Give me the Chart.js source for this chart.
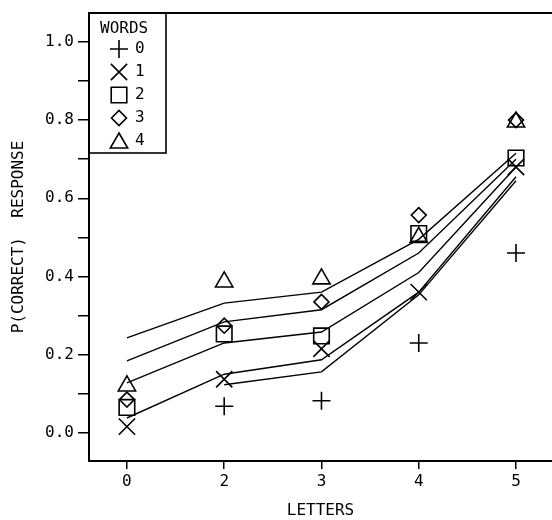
<!DOCTYPE html>
<html>
<head>
<meta charset="utf-8">
<script src="https://cdn.jsdelivr.net/npm/chart.js@4"></script>
<style>
  html, body { margin: 0; padding: 0; background: #fff; }
  canvas { display: block; }
</style>
</head>
<body>
<canvas id="chart" width="552" height="520"></canvas>
<script>
// letters shown (x categories) and word counts (series)
const letters = ['0', '2', '3', '4', '5'];
const words = ['0', '1', '2', '3', '4'];

// observed proportions, one array per word count
const obs0 = [null, 0.068, 0.082, 0.23, 0.46];
const obs1 = [0.016, 0.137, 0.215, 0.36, 0.68];
const obs2 = [0.065, 0.253, 0.248, 0.51, 0.703];
const obs3 = [0.085, 0.274, 0.335, 0.557, 0.80];
const obs4 = [0.12, 0.386, 0.394, 0.50, 0.795];

// model fits, one line per word count
const fit0 = [null, 0.123, 0.156, 0.353, 0.645];
const fit1 = [0.038, 0.15, 0.187, 0.36, 0.655];
const fit2 = [0.128, 0.23, 0.258, 0.41, 0.68];
const fit3 = [0.184, 0.284, 0.315, 0.46, 0.70];
const fit4 = [0.243, 0.332, 0.36, 0.495, 0.715];

const yTicks = [0.0, 0.1, 0.2, 0.3, 0.4, 0.5, 0.6, 0.7, 0.8, 0.9, 1.0];
const yTickLabels = ['0.0', '', '0.2', '', '0.4', '', '0.6', '', '0.8', '', '1.0'];

const observed = [obs0, obs1, obs2, obs3, obs4];
const fits = [fit0, fit1, fit2, fit3, fit4];
const markers = [
    { style: 'cross', r: 9 },
    { style: 'crossRot', r: 11.5 },
    { style: 'rect', r: 11 },
    { style: 'rectRot', r: 7.5 },
    { style: 'triangle', r: 10 }
];

const toPts = arr => arr.map((v, i) => ({ x: i, y: v }));
const mono = 'DejaVu Sans Mono';

const datasets = [];
fits.forEach((f, k) => {
    datasets.push({
        label: 'fit ' + words[k],
        data: toPts(f),
        showLine: true,
        borderColor: '#000',
        borderWidth: 1.4,
        pointRadius: 0,
        tension: 0,
        spanGaps: false
    });
});
observed.forEach((o, k) => {
    datasets.push({
        label: words[k],
        data: toPts(o),
        showLine: false,
        pointStyle: markers[k].style,
        pointRadius: markers[k].r,
        pointHoverRadius: markers[k].r,
        pointBorderColor: '#000',
        pointBackgroundColor: 'rgba(0,0,0,0)',
        pointBorderWidth: 1.6
    });
});

// top frame line + legend box drawn inside the plot area
const framePlugin = {
    id: 'frame',
    afterDraw(chart) {
        const ctx = chart.ctx;
        const a = chart.chartArea;
        ctx.save();
        ctx.strokeStyle = '#000';
        ctx.lineWidth = 2;
        ctx.beginPath();
        ctx.moveTo(a.left, a.top);
        ctx.lineTo(a.right, a.top);
        ctx.stroke();

        // legend
        const bx = a.left, by = a.top, bw = 77, bh = 140;
        ctx.lineWidth = 1.6;
        ctx.strokeRect(bx, by, bw, bh);
        ctx.font = '16px "' + mono + '"';
        ctx.textBaseline = 'middle';
        ctx.textAlign = 'left';
        ctx.fillStyle = '#000';
        ctx.fillText('WORDS', bx + 11, by + 16);
        words.forEach((w, k) => {
            const cy = by + 36 + k * 23;
            const m = markers[k];
            ctx.strokeStyle = '#000';
            ctx.fillStyle = 'rgba(0,0,0,0)';
            ctx.lineWidth = 1.6;
            Chart.helpers.drawPoint(ctx, {
                pointStyle: m.style, radius: m.r, rotation: 0, borderWidth: 1.6
            }, bx + 30, cy + (m.style === 'triangle' ? 2 : 0));
            ctx.fillStyle = '#000';
            ctx.fillText(w, bx + 46, cy);
        });
        ctx.restore();
    }
};

new Chart(document.getElementById('chart'), {
    type: 'scatter',
    data: { datasets: datasets },
    options: {
        responsive: false,
        animation: false,
        devicePixelRatio: 1,
        layout: { autoPadding: false, padding: { top: 13, left: 0, right: 0, bottom: 0 } },
        plugins: {
            legend: { display: false },
            tooltip: { enabled: false }
        },
        scales: {
            x: {
                type: 'linear',
                min: -0.39,
                max: 4.37,
                afterBuildTicks: s => { s.ticks = letters.map((_, i) => ({ value: i })); },
                afterFit: s => { s.height = 59; s.paddingLeft = 0; s.paddingRight = 0; },
                ticks: {
                    callback: (v, i) => letters[i],
                    color: '#000',
                    font: { family: mono, size: 16 },
                    padding: 3,
                    maxRotation: 0
                },
                grid: { drawOnChartArea: false, drawTicks: true, tickLength: 8, color: '#000', lineWidth: 1.5 },
                border: { color: '#000', width: 2 },
                title: {
                    display: true,
                    text: 'LETTERS',
                    color: '#000',
                    font: { family: mono, size: 16 },
                    padding: { top: 0, bottom: 0 }
                }
            },
            y: {
                type: 'linear',
                min: -0.072,
                max: 1.074,
                afterBuildTicks: s => { s.ticks = yTicks.map(v => ({ value: v })); },
                afterFit: s => { s.width = 89; s.paddingTop = 0; s.paddingBottom = 0; },
                ticks: {
                    callback: (v, i) => yTickLabels[i],
                    color: '#000',
                    font: { family: mono, size: 16 },
                    padding: 4
                },
                grid: { drawOnChartArea: false, drawTicks: true, tickLength: 11, color: '#000', lineWidth: 1.5 },
                border: { color: '#000', width: 2 },
                title: {
                    display: true,
                    text: 'P(CORRECT)  RESPONSE',
                    color: '#000',
                    font: { family: mono, size: 16 },
                    padding: { top: 9, bottom: 0 }
                }
            }
        }
    },
    plugins: [framePlugin]
});
</script>
</body>
</html>
